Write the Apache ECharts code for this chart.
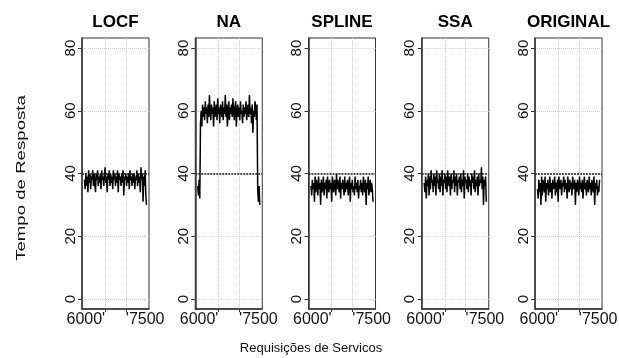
<!DOCTYPE html>
<html>
<head>
<meta charset="utf-8">
<script src="https://cdn.jsdelivr.net/npm/echarts@6/dist/echarts.min.js"></script>
<style>html,body{margin:0;padding:0;background:#fff}#c{width:619px;height:358px}</style>
</head>
<body>
<div id="c"></div>
<script>
// ---- data ----
var panels = ["LOCF", "NA", "SPLINE", "SSA", "ORIGINAL"];
var xFirst = 4500, xLast = 9000; // request numbers covered by each series
var xTickValues = [6000, 7500];
var xTickLabels = ["6000'", "'7500"];
var yTickValues = [0, 20, 40, 60, 80];
var threshold = 40;

var locf = [38,35,40,36,39,34,41,37,40,35,39,38,41,36,40,37,34,40,38,41,36,39,37,40,35,41,38,39,36,40,42,37,39,34,40,38,41,36,40,37,39,35,41,38,40,36,39,37,41,34,40,38,39,36,40,37,41,33,39,38,40,36,39,37,40,35,41,38,39,36,40,37,40,35,39,38,41,36,40,37,39,34,42,38,40,31,39,36,41,33,30];
var naSeries = [36,33,38,32,56,60,55,62,58,61,57,63,59,61,56,62,58,65,60,57,62,59,61,55,63,58,60,62,57,64,59,61,56,62,60,58,63,57,61,59,65,58,62,55,60,63,57,61,59,62,58,64,60,57,61,63,55,60,62,58,61,57,63,59,60,56,62,58,61,59,63,57,60,62,58,65,59,61,56,62,53,60,58,63,61,57,62,35,31,36,30];
var spline = [36,33,38,35,37,31,39,34,38,36,33,39,35,37,30,38,34,36,39,33,37,35,38,32,39,36,34,38,35,37,31,39,36,34,38,37,33,40,35,38,36,34,39,32,37,35,38,36,33,39,34,37,35,38,33,36,39,31,37,35,38,34,36,33,39,35,37,34,38,32,36,35,38,34,37,33,39,36,34,38,30,37,35,39,33,36,38,34,37,35,31];
var ssa = [37,34,39,32,38,36,40,33,39,35,41,37,38,34,40,36,39,33,41,37,38,35,40,34,39,36,41,33,38,37,40,35,39,34,41,38,36,39,33,40,35,38,37,41,34,39,36,40,33,38,37,39,35,40,34,38,36,41,32,39,37,38,35,40,34,39,36,38,33,40,37,39,35,41,34,38,36,39,33,40,36,38,37,42,35,39,30,38,36,39,31];
var original = [35,32,38,34,37,30,39,33,38,36,34,39,31,37,35,38,33,36,39,34,37,32,38,35,36,39,33,37,34,38,31,39,36,35,38,33,37,36,39,34,38,35,37,32,39,36,34,38,35,37,33,39,36,35,38,30,37,34,38,36,33,39,35,37,34,38,32,36,39,35,37,33,38,36,34,39,35,37,33,38,36,34,39,30,37,35,38,33,36,34,38];
var seriesValues = [locf, naSeries, spline, ssa, original];

// ---- chart ----
var FONT = "'Liberation Sans', Arial, sans-serif";
function pairs(vals) {
  var step = (xLast - xFirst) / (vals.length - 1);
  return vals.map(function (v, i) { return [xFirst + i * step, v]; });
}
var xPad = (xLast - xFirst) * 0.04;
var xMin = xFirst - xPad, xMax = xLast + xPad;
var n = panels.length;
var L0 = 82, W = 67, GAP = 113.25, TOP = 38, H = 271;
var grids = [], xAxes = [], yAxes = [], series = [], titles = [];
var labelBase = { color: '#111', fontFamily: FONT, fontSize: 16, margin: 3, hideOverlap: false };
panels.forEach(function (name, k) {
  var left = L0 + k * GAP;
  grids[k] = { left: left, top: TOP, width: W, height: H, show: true, borderColor: '#333', borderWidth: 1,
    backgroundColor: '#fff', containLabel: false, outerBoundsMode: 'none' };
  titles.push({ text: name, left: left + W / 2, top: 14, padding: 0, textAlign: 'center',
    textStyle: { fontFamily: FONT, fontSize: 17, fontWeight: 'bold', color: '#000' } });
  xAxes[k] = {
    type: 'value', gridIndex: k, position: 'bottom', min: xMin, max: xMax,
    axisLine: { show: true, onZero: false, lineStyle: { color: '#333', width: 1.5 } },
    axisTick: { show: true, length: 3, customValues: xTickValues, lineStyle: { color: '#333' } },
    splitLine: { show: true, customValues: xTickValues, lineStyle: { color: '#d0d0d0', type: 'dotted', width: 1 } },
    axisLabel: Object.assign({}, labelBase, { customValues: [xTickValues[0]], align: 'right',
      formatter: function () { return xTickLabels[0]; } })
  };
  xAxes[n + k] = {
    type: 'value', gridIndex: k, position: 'bottom', min: xMin, max: xMax,
    axisLine: { show: false }, axisTick: { show: false }, splitLine: { show: false },
    axisLabel: Object.assign({}, labelBase, { customValues: [xTickValues[1]], align: 'left',
      formatter: function () { return xTickLabels[1]; } })
  };
  yAxes[k] = {
    type: 'value', gridIndex: k, min: -3.2, max: 83.2,
    axisLine: { show: true, onZero: false, lineStyle: { color: '#333', width: 1.5 } },
    axisTick: { show: true, length: 4, customValues: yTickValues, lineStyle: { color: '#333' } },
    splitLine: { show: true, customValues: yTickValues, lineStyle: { color: '#d0d0d0', type: 'dotted', width: 1 } },
    axisLabel: { customValues: yTickValues, rotate: 90, margin: 4, color: '#111', fontFamily: FONT, fontSize: 15, hideOverlap: false }
  };
  series.push({
    type: 'line', xAxisIndex: k, yAxisIndex: k, data: pairs(seriesValues[k]),
    showSymbol: false, symbol: 'none', animation: false,
    lineStyle: { color: '#000', width: 1.5 },
    markLine: { silent: true, symbol: 'none', animation: false, label: { show: false },
      lineStyle: { color: '#222', type: [2, 1], width: 1.5 }, data: [{ yAxis: threshold }] }
  });
});

var chart = echarts.init(document.getElementById('c'), null, { renderer: 'canvas' });
chart.setOption({
  animation: false,
  backgroundColor: '#fff',
  title: titles,
  grid: grids, xAxis: xAxes, yAxis: yAxes, series: series,
  graphic: [
    { type: 'text', x: 21, y: 178, rotation: Math.PI / 2, scaleX: 1.38, scaleY: 1,
      style: { text: 'Tempo de Resposta', fontFamily: FONT, fontSize: 13.5, fill: '#111', align: 'center', verticalAlign: 'middle' } },
    { type: 'text', x: 311, y: 348,
      style: { text: 'Requisições de Servicos', fontFamily: FONT, fontSize: 13, fill: '#111', align: 'center', verticalAlign: 'middle' } }
  ]
});
</script>
</body>
</html>
